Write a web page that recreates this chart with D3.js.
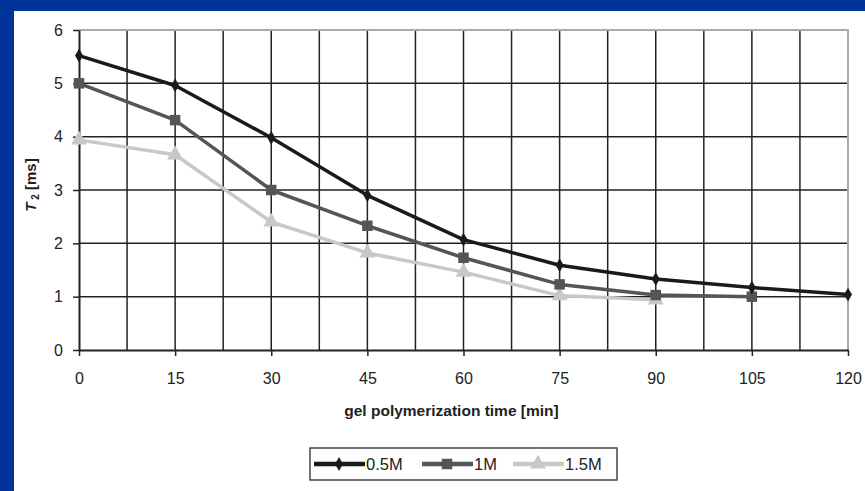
<!DOCTYPE html>
<html>
<head>
<meta charset="utf-8">
<script src="https://cdn.jsdelivr.net/npm/d3@7"></script>
<style>
  body { margin: 0; background: #003399; }
  svg { display: block; font-family: "Liberation Sans", Arial, sans-serif; }
</style>
</head>
<body>
<div id="chart"></div>
<script>
/* data */
var times = [0, 15, 30, 45, 60, 75, 90, 105, 120];
var series05 = [5.52, 4.96, 3.98, 2.9, 2.07, 1.59, 1.33, 1.17, 1.04];
var series1 = [5.0, 4.31, 3.0, 2.33, 1.73, 1.23, 1.03, 1.0];
var series15 = [3.94, 3.66, 2.4, 1.82, 1.46, 1.02, 0.94];
var seriesNames = ["0.5M", "1M", "1.5M"];
var yTicks = [0, 1, 2, 3, 4, 5, 6];

var W = 865, H = 491;
var margin = {top: 30, left: 79, right: 17, bottom: 141};
var width = W - margin.left - margin.right,
    height = H - margin.top - margin.bottom;

var x = d3.scaleLinear().domain([0, 120]).range([0, width]);
var y = d3.scaleLinear().domain([0, 6]).range([height, 0]);

var svg = d3.select("#chart").append("svg")
    .attr("width", W)
    .attr("height", H);

/* white panel inside the blue frame */
svg.append("rect")
    .attr("x", 14).attr("y", 11)
    .attr("width", W - 14).attr("height", H - 11)
    .attr("fill", "#fff");

var chart = svg.append("g")
    .attr("transform", "translate(" + margin.left + "," + margin.top + ")");

/* grid: vertical every 7.5 min, horizontal every 1 ms */
var vgrid = d3.range(7.5, 120, 7.5);
chart.append("g").selectAll("line")
    .data(vgrid)
    .enter().append("line")
        .attr("x1", function(d) { return x(d); })
        .attr("x2", function(d) { return x(d); })
        .attr("y1", 0).attr("y2", height)
        .attr("stroke", "#222").attr("stroke-width", 1.5);

chart.append("g").selectAll("line")
    .data(yTicks.slice(1, -1))
    .enter().append("line")
        .attr("x1", 0).attr("x2", width)
        .attr("y1", function(d) { return y(d); })
        .attr("y2", function(d) { return y(d); })
        .attr("stroke", "#222").attr("stroke-width", 1.5);

/* light top and right plot edges */
chart.append("path")
    .attr("d", "M0," + y(6) + "H" + x(120) + "V" + y(0))
    .attr("fill", "none")
    .attr("stroke", "#aaa").attr("stroke-width", 2);

/* axes */
var xAxis = d3.axisBottom(x).tickValues(times).tickSize(6).tickSizeOuter(0);
var yAxis = d3.axisLeft(y).tickValues(yTicks).tickFormat(d3.format("d")).tickSize(6).tickSizeOuter(0);

var gx = chart.append("g")
    .attr("transform", "translate(0," + height + ")")
    .call(xAxis);
var gy = chart.append("g").call(yAxis);

[gx, gy].forEach(function(g) {
    g.select(".domain").attr("stroke", "#222").attr("stroke-width", 2);
    g.selectAll(".tick line").attr("stroke", "#222").attr("stroke-width", 1.5);
    g.selectAll(".tick text")
        .attr("font-size", 16)
        .attr("fill", "#222")
        .attr("font-family", "Liberation Sans, Arial, sans-serif");
});
gx.selectAll(".tick text").attr("dy", "1.55em");
gy.selectAll(".tick text").attr("dx", "-0.45em");

/* axis labels */
chart.append("text")
    .attr("x", width / 2 - 12)
    .attr("y", height + 66)
    .attr("text-anchor", "middle")
    .attr("font-size", 15.5)
    .attr("font-weight", "bold")
    .attr("fill", "#222")
    .text("gel polymerization time [min]");

var yl = chart.append("text")
    .attr("transform", "translate(-43," + (height / 2 - 5) + ")rotate(-90)")
    .attr("text-anchor", "middle")
    .attr("font-size", 15)
    .attr("font-weight", "bold")
    .attr("fill", "#222");
yl.append("tspan").attr("font-style", "italic").text("T");
yl.append("tspan").attr("font-size", 10).attr("dy", 3).text(" 2");
yl.append("tspan").attr("dy", -3).text(" [ms]");

/* series */
var lines = [
    {name: seriesNames[0], values: series05, color: "#1a1a1a", symbol: d3.symbolDiamond, size: 55},
    {name: seriesNames[1], values: series1, color: "#555555", symbol: d3.symbolSquare, size: 110},
    {name: seriesNames[2], values: series15, color: "#c8c8c8", symbol: d3.symbolTriangle, size: 110}
];

var line = d3.line()
    .x(function(d, i) { return x(times[i]); })
    .y(function(d) { return y(d); });

var sg = chart.append("g").selectAll("g")
    .data(lines.slice().reverse())
    .enter().append("g");

sg.append("path")
    .attr("d", function(d) { return line(d.values); })
    .attr("fill", "none")
    .attr("stroke", function(d) { return d.color; })
    .attr("stroke-width", 3.5)
    .attr("stroke-linejoin", "round");

sg.each(function(s) {
    d3.select(this).selectAll("path.pt")
        .data(s.values)
        .enter().append("path")
            .attr("class", "pt")
            .attr("transform", function(d, i) { return "translate(" + x(times[i]) + "," + y(d) + ")"; })
            .attr("d", d3.symbol().type(s.symbol).size(s.size))
            .attr("fill", s.color);
});

/* legend */
var legend = svg.append("g").attr("transform", "translate(310,448)");
legend.append("rect")
    .attr("width", 307).attr("height", 32)
    .attr("fill", "#fff")
    .attr("stroke", "#444").attr("stroke-width", 1.5);

var offsets = [4, 112, 203];
var item = legend.selectAll("g.item")
    .data(lines)
    .enter().append("g")
        .attr("class", "item")
        .attr("transform", function(d, i) { return "translate(" + offsets[i] + ",16)"; });

item.append("line")
    .attr("x1", 0).attr("x2", 51)
    .attr("stroke", function(d) { return d.color; })
    .attr("stroke-width", 4.5);
item.append("path")
    .attr("transform", "translate(25,0)")
    .attr("d", function(d) { return d3.symbol().type(d.symbol).size(d.size)(); })
    .attr("fill", function(d) { return d.color; });
item.append("text")
    .attr("x", 52)
    .attr("y", 6)
    .attr("font-size", 16.5)
    .attr("fill", "#222")
    .text(function(d) { return d.name; });
</script>
</body>
</html>
